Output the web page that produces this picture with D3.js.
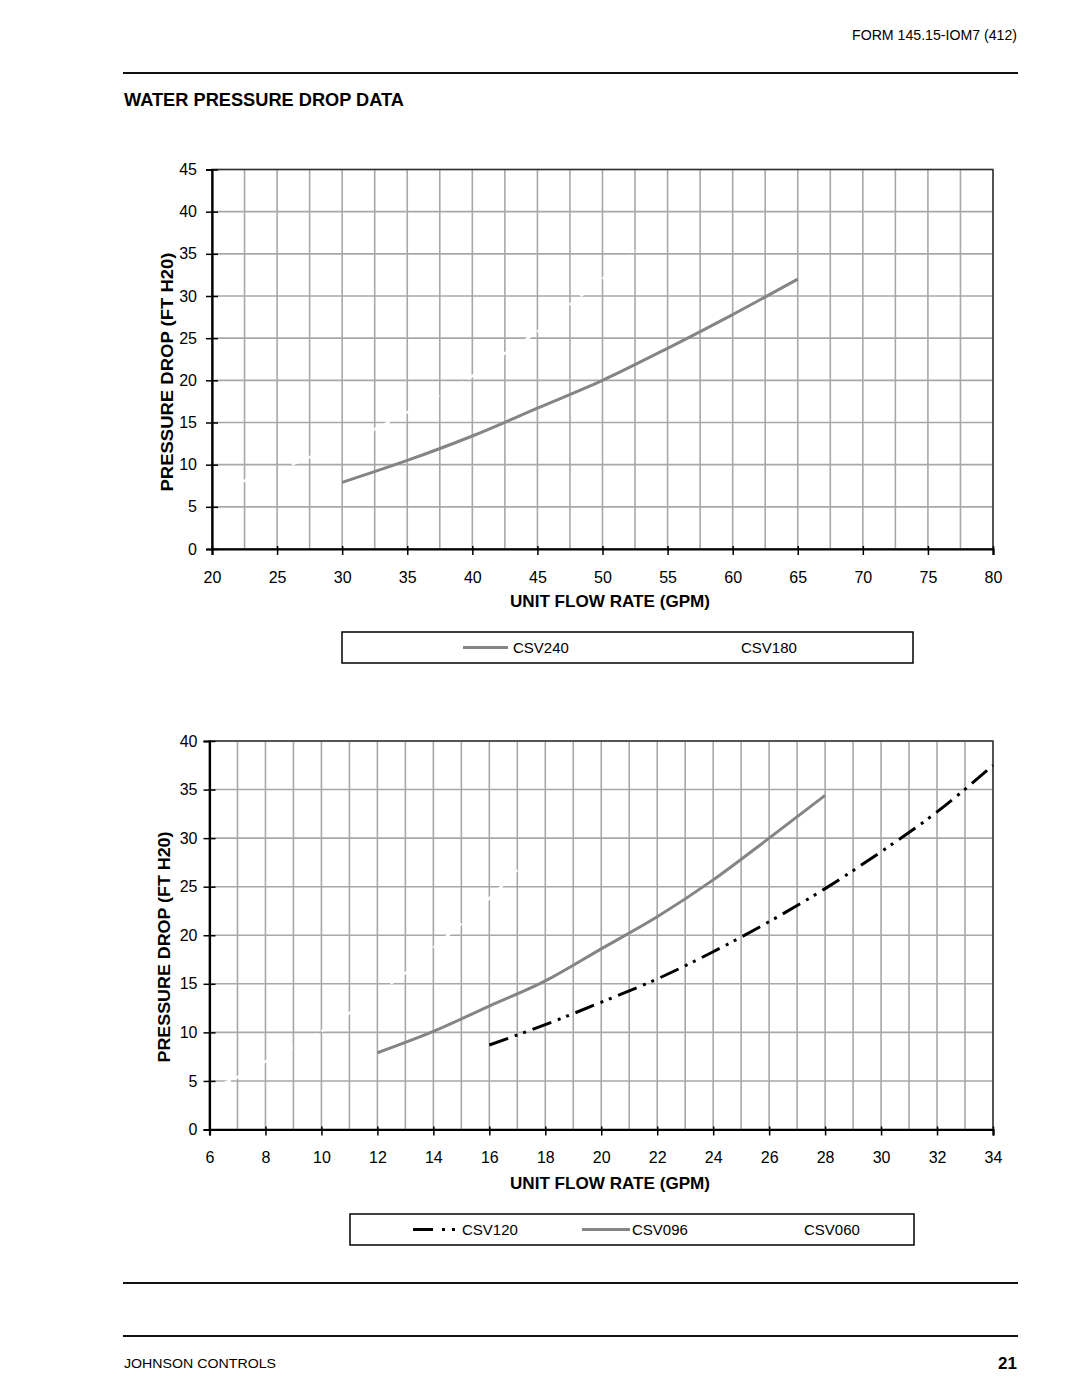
<!DOCTYPE html>
<html><head><meta charset="utf-8">
<script src="https://cdn.jsdelivr.net/npm/d3@7"></script>
<style>
body{margin:0;background:#fff;}
svg{display:block;font-family:"Liberation Sans",Arial,Helvetica,sans-serif;}
</style></head>
<body>
<svg id="chart" width="1080" height="1397"></svg>
<script>
// ---------- data ----------
const topXTicks = [20,25,30,35,40,45,50,55,60,65,70,75,80];
const topYTicks = [0,5,10,15,20,25,30,35,40,45];
const csv240X = [30,35,40,45,50,55,60,65];
const csv240Y = [7.9,10.5,13.4,16.7,20.0,23.8,27.8,32.0];
const csv180X = [20,22.5,25,27.5,30,32.5,35,40,42.5,45,47.5,50,52.5];
const csv180Y = [6.9,8.1,9.3,10.9,12.4,14.2,16.2,20.5,23.2,25.8,29.0,32.0,35.3];

const botXTicks = [6,8,10,12,14,16,18,20,22,24,26,28,30,32,34];
const botYTicks = [0,5,10,15,20,25,30,35,40];
const csv120X = [16,18,20,22,24,26,28,30,32,34];
const csv120Y = [8.7,10.8,13.1,15.5,18.3,21.4,24.8,28.6,32.7,37.5];
const csv096X = [12,14,16,18,20,22,24,26,28];
const csv096Y = [7.9,10.1,12.7,15.3,18.6,21.9,25.7,30.0,34.4];
const csv060X = [6,7,8,9,10,11,12,13,14,15,16,17];
const csv060Y = [4.2,5.4,7.0,8.5,10.1,12.0,14.1,16.1,18.7,21.2,23.8,26.7];

const topLegend = ["CSV240","CSV180"];
const botLegend = ["CSV120","CSV096","CSV060"];

// ---------- drawing ----------
const svg = d3.select("#chart");
const FONT = '"Liberation Sans",Arial,Helvetica,sans-serif';
const GRID = "#a8a8a8", CURVE = "#858585";

// header / footer
svg.append("text").attr("x",1017).attr("y",40).attr("text-anchor","end")
  .attr("font-size",14).attr("textLength",165).attr("lengthAdjust","spacingAndGlyphs")
  .text("FORM 145.15-IOM7 (412)");
svg.append("line").attr("x1",123).attr("x2",1018).attr("y1",73).attr("y2",73).attr("stroke","#111").attr("stroke-width",2);
svg.append("text").attr("x",124).attr("y",106).attr("font-size",18).attr("font-weight","bold")
  .attr("textLength",280).attr("lengthAdjust","spacingAndGlyphs").text("WATER PRESSURE DROP DATA");
svg.append("line").attr("x1",123).attr("x2",1018).attr("y1",1283).attr("y2",1283).attr("stroke","#111").attr("stroke-width",2);
svg.append("line").attr("x1",123).attr("x2",1018).attr("y1",1336).attr("y2",1336).attr("stroke","#111").attr("stroke-width",2);
svg.append("text").attr("x",124).attr("y",1368).attr("font-size",13)
  .attr("textLength",152).attr("lengthAdjust","spacingAndGlyphs").text("JOHNSON CONTROLS");
svg.append("text").attr("x",1017).attr("y",1369).attr("text-anchor","end").attr("font-size",17).attr("font-weight","bold").text("21");

function drawChart(cfg){
  const x = d3.scaleLinear().domain(cfg.xDomain).range([cfg.left,cfg.right]);
  const y = d3.scaleLinear().domain(cfg.yDomain).range([cfg.bottom,cfg.top]);
  const g = svg.append("g");
  // grid
  g.append("g").selectAll("line").data(d3.range(cfg.xDomain[0],cfg.xDomain[1]+1e-9,cfg.xGrid))
    .join("line").attr("x1",d=>x(d)).attr("x2",d=>x(d)).attr("y1",cfg.top).attr("y2",cfg.bottom)
    .attr("stroke",GRID).attr("stroke-width",1.6);
  g.append("g").selectAll("line").data(d3.range(cfg.yDomain[0],cfg.yDomain[1]+1e-9,cfg.yGrid))
    .join("line").attr("y1",d=>y(d)).attr("y2",d=>y(d)).attr("x1",cfg.left).attr("x2",cfg.right)
    .attr("stroke",GRID).attr("stroke-width",1.6);
  // frame
  g.append("rect").attr("x",cfg.left).attr("y",cfg.top).attr("width",cfg.right-cfg.left).attr("height",cfg.bottom-cfg.top)
    .attr("fill","none").attr("stroke","#333").attr("stroke-width",1.5);
  // series
  const line = d3.line().x(d=>x(d[0])).y(d=>y(d[1])).curve(d3.curveMonotoneX);
  cfg.series.forEach(s=>{
    g.append("path").datum(d3.zip(s.x,s.y)).attr("d",line).attr("fill","none")
      .attr("stroke",s.color).attr("stroke-width",s.width).attr("stroke-dasharray",s.dash||null);
  });
  // axes
  const ya = g.append("g").attr("transform",`translate(${cfg.left},0)`)
    .call(d3.axisLeft(y).tickValues(cfg.yTicks).tickSize(6).tickPadding(cfg.yPad));
  ya.select(".domain").attr("stroke","#000").attr("stroke-width",2.2);
  ya.selectAll(".tick line").attr("x1",6).attr("stroke","#000").attr("stroke-width",1.5);
  ya.selectAll(".tick text").attr("font-size",16).attr("font-family",FONT).attr("fill","#000");
  const xa = g.append("g").attr("transform",`translate(0,${cfg.bottom})`)
    .call(d3.axisBottom(x).tickValues(cfg.xTicks).tickSize(6).tickPadding(cfg.xPad));
  xa.select(".domain").attr("stroke","#000").attr("stroke-width",2.2);
  xa.selectAll(".tick line").attr("y1",-3).attr("stroke","#000").attr("stroke-width",1.5);
  xa.selectAll(".tick text").attr("font-size",16).attr("font-family",FONT).attr("fill","#000");
  // titles
  g.append("text").attr("transform",`translate(${cfg.yTitleX},${cfg.yTitleY}) rotate(-90)`)
    .attr("text-anchor","middle").attr("font-size",17).attr("font-weight","bold")
    .attr("textLength",cfg.yTitleLen).attr("lengthAdjust","spacingAndGlyphs").text("PRESSURE DROP (FT H20)");
  g.append("text").attr("x",cfg.xTitleX).attr("y",cfg.xTitleY).attr("text-anchor","middle")
    .attr("font-size",16.5).attr("font-weight","bold")
    .attr("textLength",200).attr("lengthAdjust","spacingAndGlyphs").text("UNIT FLOW RATE (GPM)");
  // legend
  const L = cfg.legend;
  g.append("rect").attr("x",L.x).attr("y",L.y).attr("width",L.w).attr("height",L.h)
    .attr("fill","none").attr("stroke","#000").attr("stroke-width",1.5);
  const cy = L.y + L.h/2;
  L.items.forEach(it=>{
    const s = it.series;
    g.append("line").attr("x1",it.lx1).attr("x2",it.lx2).attr("y1",cy).attr("y2",cy)
      .attr("stroke",s.color).attr("stroke-width",s.width).attr("stroke-dasharray",s.legendDash||s.dash||null);
    g.append("text").attr("x",it.tx).attr("y",cy+5.5).attr("font-size",15).text(it.label);
  });
}

const s240 = {x:csv240X,y:csv240Y,color:CURVE,width:3};
const s180 = {x:csv180X,y:csv180Y,color:"#fff",width:2.5,dash:"9,5"};
drawChart({
  xDomain:[20,80], yDomain:[0,45], left:212, right:993, top:169.5, bottom:549,
  xGrid:2.5, yGrid:5, xTicks:topXTicks, yTicks:topYTicks, yPad:9, xPad:17,
  yTitleX:173, yTitleY:372, yTitleLen:239, xTitleX:610, xTitleY:607,
  series:[s180,s240],
  legend:{x:342,y:632,w:571,h:31,items:[
    {series:s240,lx1:463,lx2:508,tx:513,label:topLegend[0]},
    {series:s180,lx1:693,lx2:738,tx:741,label:topLegend[1]}]}
});

const s120 = {x:csv120X,y:csv120Y,color:"#000",width:3,dash:"20,7,3,6,3,7",legendDash:"20,9,3,7,3,7"};
const s096 = {x:csv096X,y:csv096Y,color:CURVE,width:3};
const s060 = {x:csv060X,y:csv060Y,color:"#fff",width:2.5,dash:"9,5"};
drawChart({
  xDomain:[6,34], yDomain:[0,40], left:209.5, right:993, top:741, bottom:1129.5,
  xGrid:1, yGrid:5, xTicks:botXTicks, yTicks:botYTicks, yPad:6, xPad:16,
  yTitleX:170, yTitleY:947, yTitleLen:231, xTitleX:610, xTitleY:1189,
  series:[s060,s096,s120],
  legend:{x:350,y:1214,w:564,h:31,items:[
    {series:s120,lx1:413,lx2:456,tx:462,label:botLegend[0]},
    {series:s096,lx1:582,lx2:630,tx:632,label:botLegend[1]},
    {series:s060,lx1:755,lx2:800,tx:804,label:botLegend[2]}]}
});
</script>
</body></html>
